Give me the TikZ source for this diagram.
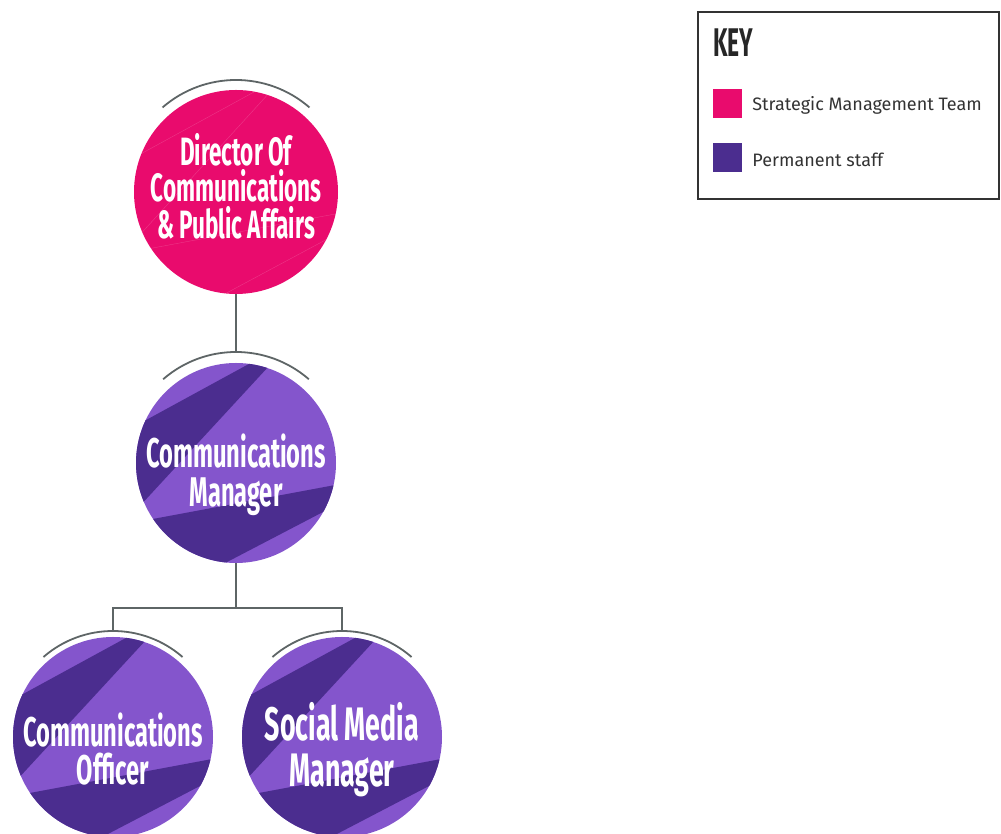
\documentclass[tikz,border=0pt]{standalone}
\usepackage{fontspec}
\setmainfont{Fira Sans}
\newfontfamily\condfont[FakeStretch=0.57]{Fira Sans}
\usetikzlibrary{calc}
\usetikzlibrary{positioning}
\definecolor{smtpink}{HTML}{E90B6D}
\definecolor{staffdark}{HTML}{4B2D8F}
\definecolor{stafflight}{HTML}{8455CC}
\definecolor{archgray}{HTML}{5E6566}
\definecolor{keytext}{HTML}{333333}
\newcommand{\rolearc}[2]% node, radius
{($(#1.center)+(49:#2)$) arc (49:131:#2)
}
\tikzset{
  role/.style={circle, inner sep=0pt, minimum size=200pt},
  smt/.style={role, fill=smtpink, minimum size=204pt,
    path picture={
      \draw[white, opacity=0.18, line width=0.4pt, shift={(path picture bounding box.center)}]
        (-110,30)--(40,112) (45,112)--(-110,-58) (-110,-61)--(110,-20) (-30,-112)--(110,-37);
    }},
  staff/.style={role, fill=stafflight,
    path picture={
      \fill[staffdark, shift={(path picture bounding box.center)}]
        (-110,32) -- (33,110) -- (45,110) -- (-110,-58) -- cycle
        (-110,-61) -- (110,-20) -- (110,-37) -- (-30,-110) -- (-110,-110) -- cycle;
    }},
  roletext/.style={text=white, align=center, inner sep=0pt},
  bracket/.style={draw=archgray, line width=1.8pt},
  link/.style={draw=archgray, line width=1.5pt},
  keyswatch/.style={minimum size=29pt, inner sep=0pt},
  keylabel/.style={text=keytext, inner sep=0pt, yshift=-2pt, font=\fontsize{18}{20}\selectfont},
}

\begin{document}
\begin{tikzpicture}[x=1pt, y=1pt]
	\useasboundingbox (0,0) rectangle (1001,834);
	% roles
	\node[smt] (dir) at (236,642) {};
	\node[staff] (mgr) at (236,371) {};
	\node[staff] (off) at (113,97) {};
	\node[staff] (smm) at (342,97) {};
	\node[roletext, font=\condfont\bfseries\fontsize{39.5}{36.5}\selectfont] (dirtext) at (236,648) {Director Of\\Communications\\\& Public Affairs};
	\node[roletext, font=\condfont\bfseries\fontsize{41.5}{39}\selectfont] (mgrtext) at (236,359) {Communications\\Manager};
	\node[roletext, font=\condfont\bfseries\fontsize{41.5}{38}\selectfont] (offtext) at (113,85) {Communications\\Officer};
	\node[roletext, font=\condfont\bfseries\fontsize{47}{46}\selectfont] (smmtext) at (342,84) {Social Media\\Manager};
	% arcs over the circles
	\draw[bracket] \rolearc{dir}{112};
	\draw[bracket] \rolearc{mgr}{111};
	\draw[bracket] \rolearc{off}{106};
	\draw[bracket] \rolearc{smm}{106};
	\coordinate (mgrtop) at ($(mgr.center)+(0,111)$);
	\coordinate (offtop) at ($(off.center)+(0,106)$);
	\coordinate (smmtop) at ($(smm.center)+(0,106)$);
	% lines
	\draw[link] (dir.south) -- (mgrtop);
	\draw[link] (mgr.south) -- ++(0,-45) coordinate (split);
	\draw[link] (offtop) |- (split) -| (smmtop);
	% key
	\draw[draw=keytext, line width=1.5pt] (698,635) rectangle (999,822);
	\node[anchor=west, inner sep=0pt, text=black!85, font=\condfont\bfseries\fontsize{40}{42}\selectfont] (keytitle) at (713,791) {KEY};
	\node[keyswatch, fill=smtpink] (keysmt) at (727.5,730.5) {};
	\node[keyswatch, fill=staffdark] (keystaff) at (727.5,676.5) {};
	\node[keylabel, right=10pt of keysmt] (keysmtlabel) {Strategic Management Team};
	\node[keylabel, right=10pt of keystaff] (keystafflabel) {Permanent staff};
\end{tikzpicture}
\end{document}
